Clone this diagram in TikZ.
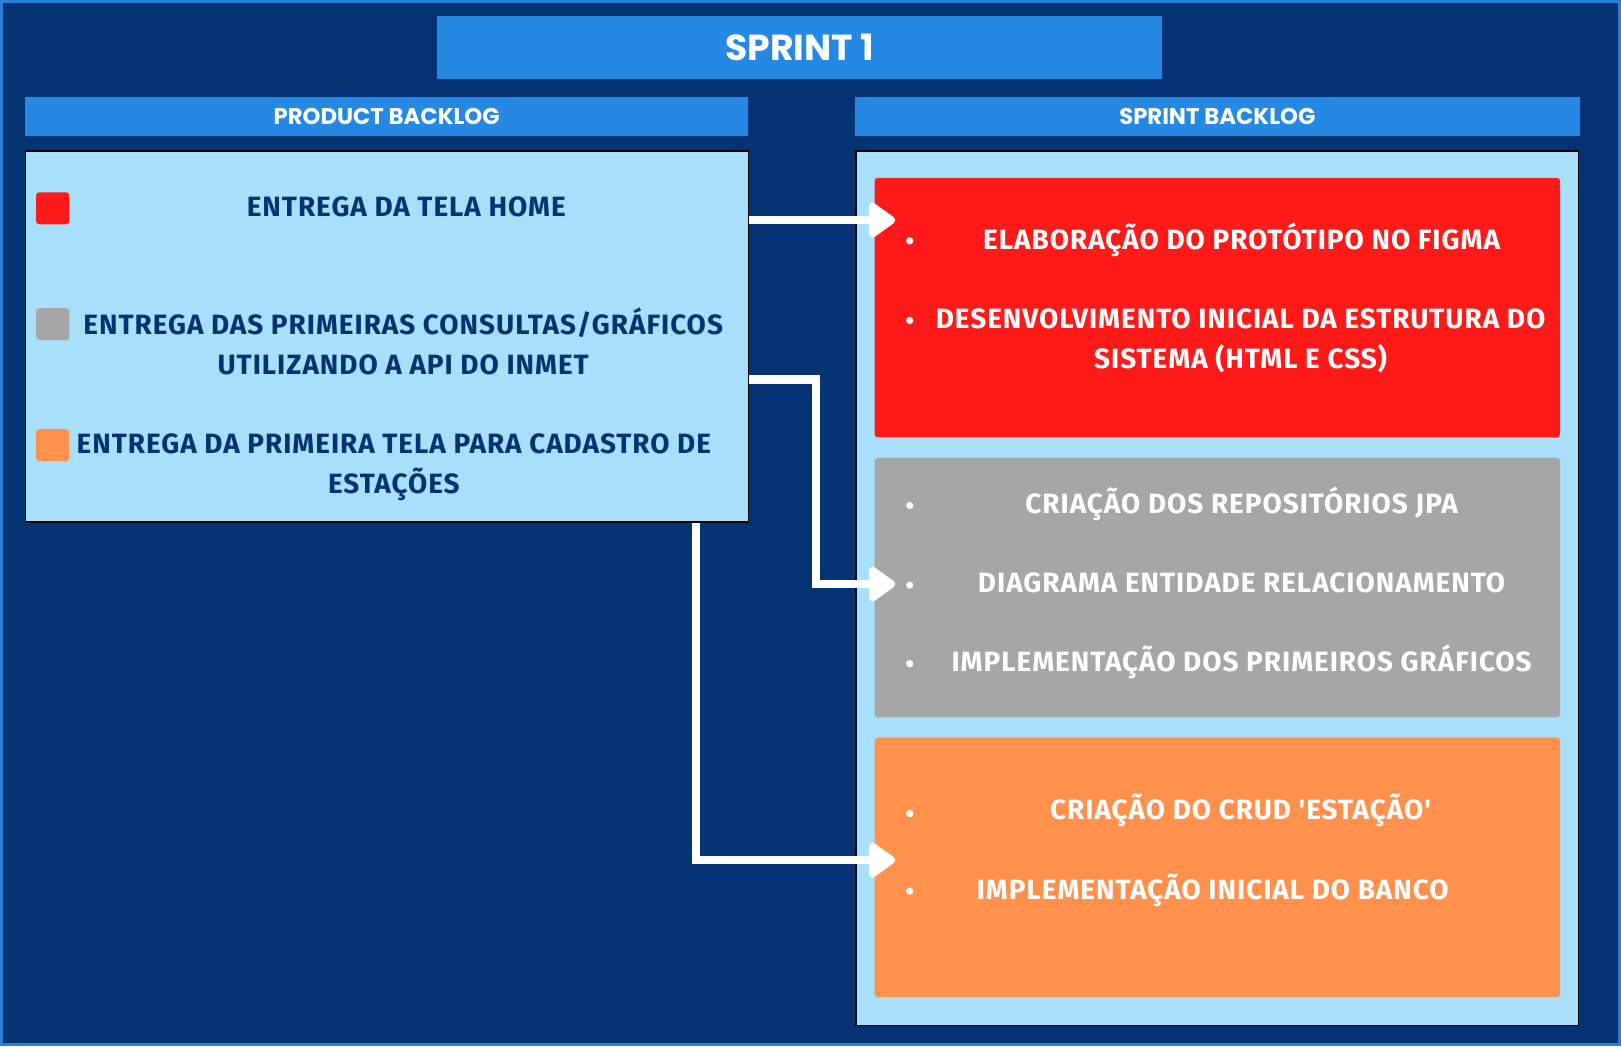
\documentclass[tikz,border=0pt]{standalone}
\usepackage{fontspec}
\setmainfont{Fira Sans}
\newfontfamily\headfont{Poppins}
\newfontfamily\itemfont[LetterSpace=3.5]{Fira Sans}
\usetikzlibrary{arrows.meta}
\definecolor{navy}{HTML}{043373}
\definecolor{frameblue}{HTML}{2A7FD4}
\definecolor{barblue}{HTML}{2589E3}
\definecolor{panelblue}{HTML}{A8DFFB}
\definecolor{cardred}{HTML}{FF1A1A}
\definecolor{cardgray}{HTML}{A6A6A6}
\definecolor{cardorange}{HTML}{FF914D}
\begin{document}
\begin{tikzpicture}[x=1pt,y=-1pt,>={Triangle[length=28pt,width=38pt,round]},
  bar/.style={fill=barblue,text=white,font=\headfont\bfseries\fontsize{22}{26}\selectfont,inner sep=0,minimum height=38pt},
  panel/.style={fill=panelblue,draw=black,line width=1.2pt,inner sep=0},
  card/.style={rounded corners=3pt,inner sep=0,minimum width=663pt,minimum height=251pt},
  sq/.style={rounded corners=3pt,inner sep=0,minimum width=32pt,minimum height=31pt},
  item/.style={font=\itemfont\bfseries\fontsize{27}{38}\selectfont,align=center,anchor=base},
  dot/.style={circle,fill=white,inner sep=0,minimum size=7pt},
  flow/.style={->,draw=white,line width=8pt}]
\useasboundingbox (0,0) rectangle (1568,1012);
\fill[navy] (0,0) rectangle (1568,1012);
\draw[frameblue,line width=3pt] (1.5,1.5) rectangle (1566.5,1010.5);
% headers
\node[bar,minimum width=701pt,minimum height=61pt,font=\headfont\bfseries\fontsize{35}{40}\selectfont] (title) at (773.5,46) {SPRINT 1};
\node[bar,minimum width=700pt] (pbh) at (374,113) {PRODUCT BACKLOG};
\node[bar,minimum width=701pt] (sbh) at (1177.5,113) {SPRINT BACKLOG};
% panels
\node[panel,minimum width=699pt,minimum height=359pt] (pb) at (374.5,325.5) {};
\node[panel,minimum width=699pt,minimum height=846pt] (sb) at (1177.5,569) {};
\node[card,fill=cardred] (red) at (1177.5,297.5) {};
\node[card,fill=cardgray] (gray) at (1177.5,568.5) {};
\node[card,fill=cardorange] (orange) at (1177.5,839) {};
% product backlog
\node[sq,fill=cardred] (sq1) at (51,201.5) {};
\node[sq,fill=cardgray] (sq2) at (51,313.5) {};
\node[sq,fill=cardorange] (sq3) at (51,430.5) {};
\node[item,text=navy] (pb1) at (393,209) {ENTREGA DA TELA HOME};
\node[item,text=navy] (pb2) at (390,362) {ENTREGA DAS PRIMEIRAS CONSULTAS/GRÁFICOS\\UTILIZANDO A API DO INMET};
\node[item,text=navy] (pb3) at (381,477) {ENTREGA DA PRIMEIRA TELA PARA CADASTRO DE\\ESTAÇÕES};
% sprint backlog
\node[item,text=white] (r1) at (1201,241) {ELABORAÇÃO DO PROTÓTIPO NO FIGMA};
\node[item,text=white] (r2) at (1200,356) {DESENVOLVIMENTO INICIAL DA ESTRUTURA DO\\SISTEMA (HTML E CSS)};
\node[item,text=white] (g1) at (1201,497) {CRIAÇÃO DOS REPOSITÓRIOS JPA};
\node[item,text=white] (g2) at (1201,573) {DIAGRAMA ENTIDADE RELACIONAMENTO};
\node[item,text=white] (g3) at (1201,650) {IMPLEMENTAÇÃO DOS PRIMEIROS GRÁFICOS};
\node[item,text=white] (o1) at (1200,793) {CRIAÇÃO DO CRUD 'ESTAÇÃO'};
\node[item,text=white] (o2) at (1173,870) {IMPLEMENTAÇÃO INICIAL DO BANCO};
\foreach \y in {233,310,489,566,642,787,862}
  \node[dot] (b\y) at (880,\y) {};
% arrows
\coordinate (t1) at (866,213);
\coordinate (t2) at (866,565);
\coordinate (t3) at (866,832);
\draw[flow] (pb.east |- t1) -- (t1);
\draw[flow] (pb.east |- 0,367) -| (789,565) -- (t2);
\draw[flow] (pb.south -| 673,0) |- (t3);
\end{tikzpicture}
\end{document}
